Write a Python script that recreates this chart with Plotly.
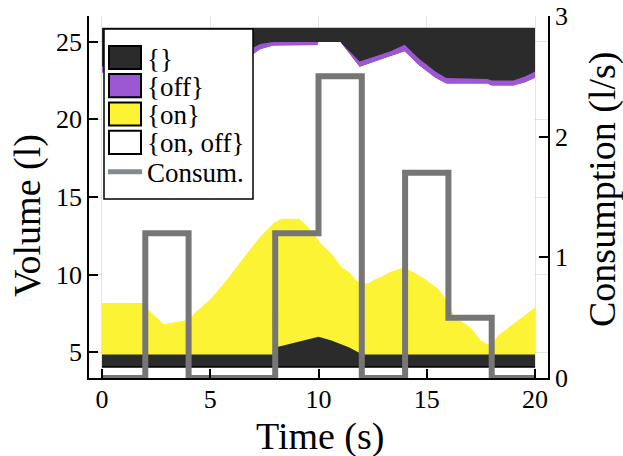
import plotly.graph_objects as go

# ---------------- data ----------------
TIME_TICKS = [0, 5, 10, 15, 20]
VOL_TICKS = [5, 10, 15, 20, 25]
CONS_TICKS = [0, 1, 2, 3]

T_START, T_END = 0, 20
VOL_MIN, VOL_MAX = 4.05, 25.9

# consumption (step function)
CONS_T = [0, 2, 4, 8, 10, 12, 14, 16, 18, 20]
CONS_V = [0, 1.2, 0, 1.2, 2.5, 0, 1.7, 0.5, 0]

# boundary {} (bottom) / {on}
B1_T = [0, 8.0, 8.0, 10.0, 10.6, 11.4, 11.9, 12.0, 20]
B1_V = [4.85, 4.85, 5.3, 6.0, 5.76, 5.32, 4.95, 4.85, 4.85]

# boundary {on} / {on, off}
B2_T = [0, 1.85, 2.2, 2.85, 3.2, 3.8, 4.0, 4.26, 5.03, 5.8, 6.57, 7.3, 7.96, 8.3,
        9.1, 9.5, 9.85, 10.1, 10.6, 11.05, 11.4, 11.75, 12.0, 12.3, 12.6, 12.9,
        13.3, 13.9, 14.2, 14.9, 15.5, 15.8, 16.0, 16.3, 16.6, 17.05, 17.5, 17.8,
        18.0, 18.3, 18.8, 19.45, 20]
B2_V = [8.17, 8.17, 7.65, 6.8, 6.87, 7.05, 7.1, 7.5, 8.45, 9.74, 11.14, 12.43, 13.35, 13.6,
        13.6, 13.1, 12.5, 12.0, 11.36, 10.49, 10.17, 9.6, 9.45, 9.42, 9.68, 9.85,
        10.17, 10.45, 10.3, 9.74, 9.1, 8.6, 8.0, 7.3, 7.0, 6.55, 5.76, 5.5,
        5.5, 6.08, 6.65, 7.3, 7.88]

# boundaries {on, off} / {off} (B3) and {off} / {} top (B4)
P_T = [0, 3.5, 6.96, 7.3, 7.9, 9.95, 10.0, 11.0, 11.9, 13.3, 13.98, 14.6, 15.4, 15.9,
       17.8, 18.0, 19.0, 19.54, 20]
B3_V = [23.0, 23.6, 24.17, 24.5, 24.75, 24.78, 24.99, 24.99, 23.37, 24.06, 24.38, 23.52,
        22.66, 22.29, 22.29, 22.16, 22.16, 22.38, 22.66]
B4_V = [23.4, 24.0, 24.6, 24.85, 24.99, 24.99, 24.99, 24.99, 23.73, 24.38, 24.81, 23.95,
        23.09, 22.66, 22.6, 22.5, 22.5, 22.76, 23.09]

LEG_LABELS = ["{}", "{off}", "{on}", "{on, off}"]
LEG_COLORS = ["#2b2b2b", "#9c57d2", "#fdf335", "#ffffff"]
CONS_LABEL = "Consum."
CONS_COLOR = "#767676"
CONS_LEG_COLOR = "#808c8b"

X_TITLE = "Time (s)"
Y_TITLE = "Volume (l)"
Y2_TITLE = "Consumption (l/s)"

FONT = "Liberation Serif"

# ---------------- figure ----------------
fig = go.Figure()


def band(lo_t, lo_v, hi_t, hi_v, color):
    x = list(lo_t) + list(hi_t)[::-1]
    y = list(lo_v) + list(hi_v)[::-1]
    fig.add_trace(go.Scatter(x=x, y=y, mode="lines", fill="toself", fillcolor=color,
                             line=dict(width=0, color=color), hoverinfo="skip",
                             showlegend=False))


full_t = [T_START, T_END]
band(P_T, B3_V, full_t, [VOL_MAX, VOL_MAX], LEG_COLORS[0])        # {} top
band(P_T, B3_V, P_T, B4_V, LEG_COLORS[1])                         # {off}
band(B2_T, B2_V, P_T, B3_V, LEG_COLORS[3])                        # {on, off}
band(full_t, [VOL_MIN, VOL_MIN], B2_T, B2_V, LEG_COLORS[2])       # {on}
band(full_t, [VOL_MIN, VOL_MIN], B1_T, B1_V, LEG_COLORS[0])       # {} bottom

fig.add_trace(go.Scatter(x=full_t, y=[VOL_MIN, VOL_MIN], mode="lines",
                         line=dict(color="black", width=1.5), hoverinfo="skip",
                         showlegend=False))

fig.add_trace(go.Scatter(x=CONS_T, y=CONS_V + [CONS_V[-1]], mode="lines",
                         line=dict(color=CONS_COLOR, width=6, shape="hv"),
                         yaxis="y2", hoverinfo="skip", showlegend=False))

# ---------------- manual legend & titles ----------------
L, R, T, B = 89, 548, 16, 378
W, H = R - L, B - T


def px(xp):
    return (xp - L) / W


def py(yp):
    return (B - yp) / H


shapes = [dict(type="rect", xref="paper", yref="paper", x0=px(104), x1=px(253),
               y0=py(199), y1=py(29), fillcolor="white",
               line=dict(color="black", width=1.5), layer="above")]
annotations = []
row_y = [57.5, 85.7, 114.0, 142.3]
for lab, col, yc in zip(LEG_LABELS, LEG_COLORS, row_y):
    shapes.append(dict(type="rect", xref="paper", yref="paper", x0=px(109), x1=px(141),
                       y0=py(yc + 11.6), y1=py(yc - 11.6), fillcolor=col,
                       line=dict(color="black", width=2), layer="above"))
    annotations.append(dict(xref="paper", yref="paper", x=px(145), y=py(yc + 1),
                            text=lab, showarrow=False, xanchor="left", yanchor="middle",
                            font=dict(family=FONT, size=27, color="black")))
shapes.append(dict(type="line", xref="paper", yref="paper", x0=px(108), x1=px(142),
                   y0=py(171.7), y1=py(171.7), line=dict(color=CONS_LEG_COLOR, width=5),
                   layer="above"))
annotations.append(dict(xref="paper", yref="paper", x=px(145), y=py(172.5),
                        text=CONS_LABEL, showarrow=False, xanchor="left", yanchor="middle",
                        font=dict(family=FONT, size=27, color="black")))

title_font = dict(family=FONT, size=38, color="black")
annotations.append(dict(xref="paper", yref="paper", x=px(320), y=py(436), text=X_TITLE,
                        showarrow=False, xanchor="center", yanchor="middle", font=title_font))
annotations.append(dict(xref="paper", yref="paper", x=px(27), y=py(215), text=Y_TITLE,
                        showarrow=False, xanchor="center", yanchor="middle", textangle=-90,
                        font=title_font))
annotations.append(dict(xref="paper", yref="paper", x=px(603), y=py(189), text=Y2_TITLE,
                        showarrow=False, xanchor="center", yanchor="middle", textangle=-90,
                        font=title_font))

axis_common = dict(ticks="inside", ticklen=9, tickwidth=1.5, tickcolor="black",
                   showline=True, linecolor="black", linewidth=1.5, zeroline=False,
                   automargin=False,
                   tickfont=dict(family=FONT, size=26, color="black"))

fig.update_layout(
    width=623, height=456,
    margin=dict(l=L, r=623 - R, t=T, b=456 - B),
    paper_bgcolor="white", plot_bgcolor="white",
    font=dict(family=FONT, color="black"),
    showlegend=False,
    xaxis=dict(range=[-0.6, 20.6], tickvals=TIME_TICKS, showgrid=True,
               gridcolor="rgba(0,0,0,0.1)", gridwidth=1, ticklabelstandoff=-3,
               **axis_common),
    yaxis=dict(range=[3.34, 26.66], tickvals=VOL_TICKS, showgrid=True,
               gridcolor="rgba(0,0,0,0.1)", gridwidth=1, **axis_common),
    yaxis2=dict(range=[0, 3], tickvals=CONS_TICKS, overlaying="y", side="right",
                showgrid=False, **axis_common),
    shapes=shapes,
    annotations=annotations,
)

fig.write_html("out.html",
               config={"displayModeBar": False},
               post_script="document.body.style.margin='0';"
                           "document.body.style.overflow='hidden';")
